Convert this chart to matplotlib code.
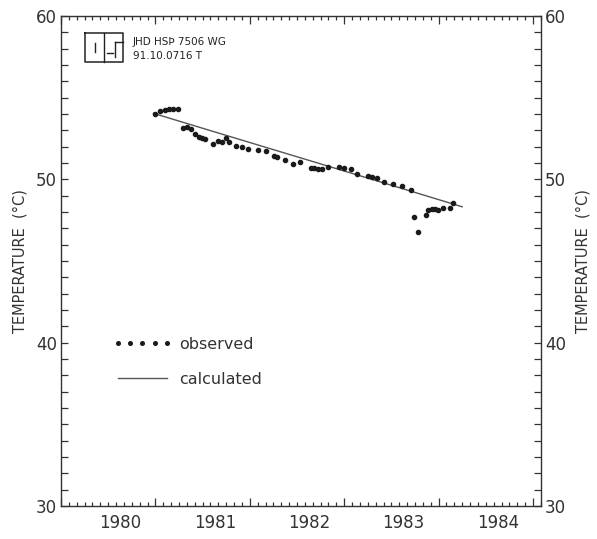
import numpy as np
import matplotlib
matplotlib.use('Agg')
from matplotlib import pyplot as plt
from matplotlib.lines import Line2D

plt.rcParams['font.family'] = ['DejaVu Sans']

# observed well temperatures (decimal year, deg C)
obs_year = [1980.363, 1980.423, 1980.469, 1980.511, 1980.557, 1980.607, 1980.659, 1980.705,
            1980.751, 1980.794, 1980.829, 1980.864, 1980.899, 1980.981, 1981.034, 1981.076,
            1981.118, 1981.153, 1981.224, 1981.287, 1981.351, 1981.457, 1981.542, 1981.622,
            1981.658, 1981.739, 1981.824, 1981.905, 1982.018, 1982.053, 1982.092, 1982.134,
            1982.198, 1982.317, 1982.363, 1982.441, 1982.511, 1982.621, 1982.663, 1982.716,
            1982.797, 1982.892, 1982.981, 1983.076, 1983.108, 1983.157, 1983.238, 1983.262,
            1983.298, 1983.333, 1983.368, 1983.421, 1983.492, 1983.527]
obs_temp = [53.98, 54.18, 54.24, 54.29, 54.29, 54.29, 53.16, 53.20,
            53.08, 52.76, 52.61, 52.55, 52.47, 52.18, 52.35, 52.31,
            52.51, 52.27, 52.04, 51.98, 51.87, 51.78, 51.73, 51.43,
            51.35, 51.16, 50.96, 51.08, 50.67, 50.67, 50.63, 50.61,
            50.75, 50.73, 50.71, 50.61, 50.32, 50.18, 50.14, 50.10,
            49.82, 49.73, 49.57, 49.33, 47.71, 46.75, 47.81, 48.14,
            48.20, 48.18, 48.10, 48.22, 48.22, 48.53]

# calculated (model) temperature
calc_year = [1980.35, 1981.0, 1981.9, 1982.8, 1983.62]
calc_temp = [54.04, 52.90, 51.33, 49.76, 48.32]

year_labels = [1980, 1981, 1982, 1983, 1984]
temp_ticks = [30, 40, 50, 60]

ink = '#333333'

fig = plt.figure(figsize=(5.97, 5.39), dpi=100)
ax = fig.add_axes([61 / 597, 1 - 506 / 539, 480 / 597, 490 / 539])

ax.plot(calc_year, calc_temp, color='#555555', lw=1.0, label='calculated')
ax.plot(obs_year, obs_temp, 'o', color='#1a1a1a', ms=3.0, label='observed')

ax.set_xlim(1979.37, 1984.455)
ax.set_ylim(30, 60)

# monthly ticks, taller once a year
ax.set_xticks(np.arange(1979.37, 1984.46, 1.0))
ax.set_xticks(np.arange(1979.37, 1984.46, 1 / 12), minor=True)
ax.tick_params(axis='x', which='both', direction='in', top=True, bottom=True,
               labelbottom=False, color=ink, width=0.9)
ax.tick_params(axis='x', which='major', length=6)
ax.tick_params(axis='x', which='minor', length=3)

sec = ax.secondary_xaxis('bottom')
sec.set_xticks(year_labels)
sec.tick_params(length=0, pad=6, labelsize=12, labelcolor=ink)
sec.spines['bottom'].set_visible(False)

ax.set_yticks(temp_ticks)
ax.set_yticks(np.arange(30, 61, 1), minor=True)
ax.tick_params(axis='y', which='both', direction='in', left=True, right=True,
               labelleft=True, labelright=True, length=5, color=ink, width=0.9,
               labelsize=12, labelcolor=ink, pad=3)

for s in ax.spines.values():
    s.set_linewidth(1.0)
    s.set_color(ink)

fig.text(20 / 597, 0.515, 'TEMPERATURE  (°C)', rotation=90, ha='center', va='center',
         fontsize=10.5, color=ink)
fig.text(583 / 597, 0.515, 'TEMPERATURE  (°C)', rotation=90, ha='center', va='center',
         fontsize=10.5, color=ink)

# logo box
tr = fig.transFigure
def px(x, y):
    return x / 597, 1 - y / 539
box = [px(85, 33), px(123, 33), px(123, 62), px(85, 62), px(85, 33)]
fig.add_artist(Line2D([p[0] for p in box], [p[1] for p in box], transform=tr, color='#222222', lw=1.1))
for (x0, y0), (x1, y1) in [((103.5, 33), (103.5, 62)), ((95, 43), (95, 52)),
                           ((107, 53), (113, 53)), ((115, 57), (115, 42)), ((115, 42), (123, 42))]:
    a, b = px(x0, y0), px(x1, y1)
    fig.add_artist(Line2D([a[0], b[0]], [a[1], b[1]], transform=tr, color='#222222', lw=1.0))
fig.text(133 / 597, 1 - 42 / 539, 'JHD HSÞ 7506 WG', fontsize=7.5, va='center', color='#222222')
fig.text(133 / 597, 1 - 56 / 539, '91.10.0716 T', fontsize=7.5, va='center', color='#222222')

handles = [Line2D([], [], ls='none', marker='o', ms=2.6, color='#1a1a1a'),
           Line2D([], [], color='#555555', lw=1.0)]
ax.legend(handles, ['observed', 'calculated'], loc='upper left', bbox_to_anchor=(0.108, 0.345),
          frameon=False, numpoints=5, handlelength=3.7, handletextpad=0.45, labelspacing=1.25,
          borderpad=0, borderaxespad=0, fontsize=11.5, labelcolor=ink)

fig.savefig('out.png', dpi=100)
